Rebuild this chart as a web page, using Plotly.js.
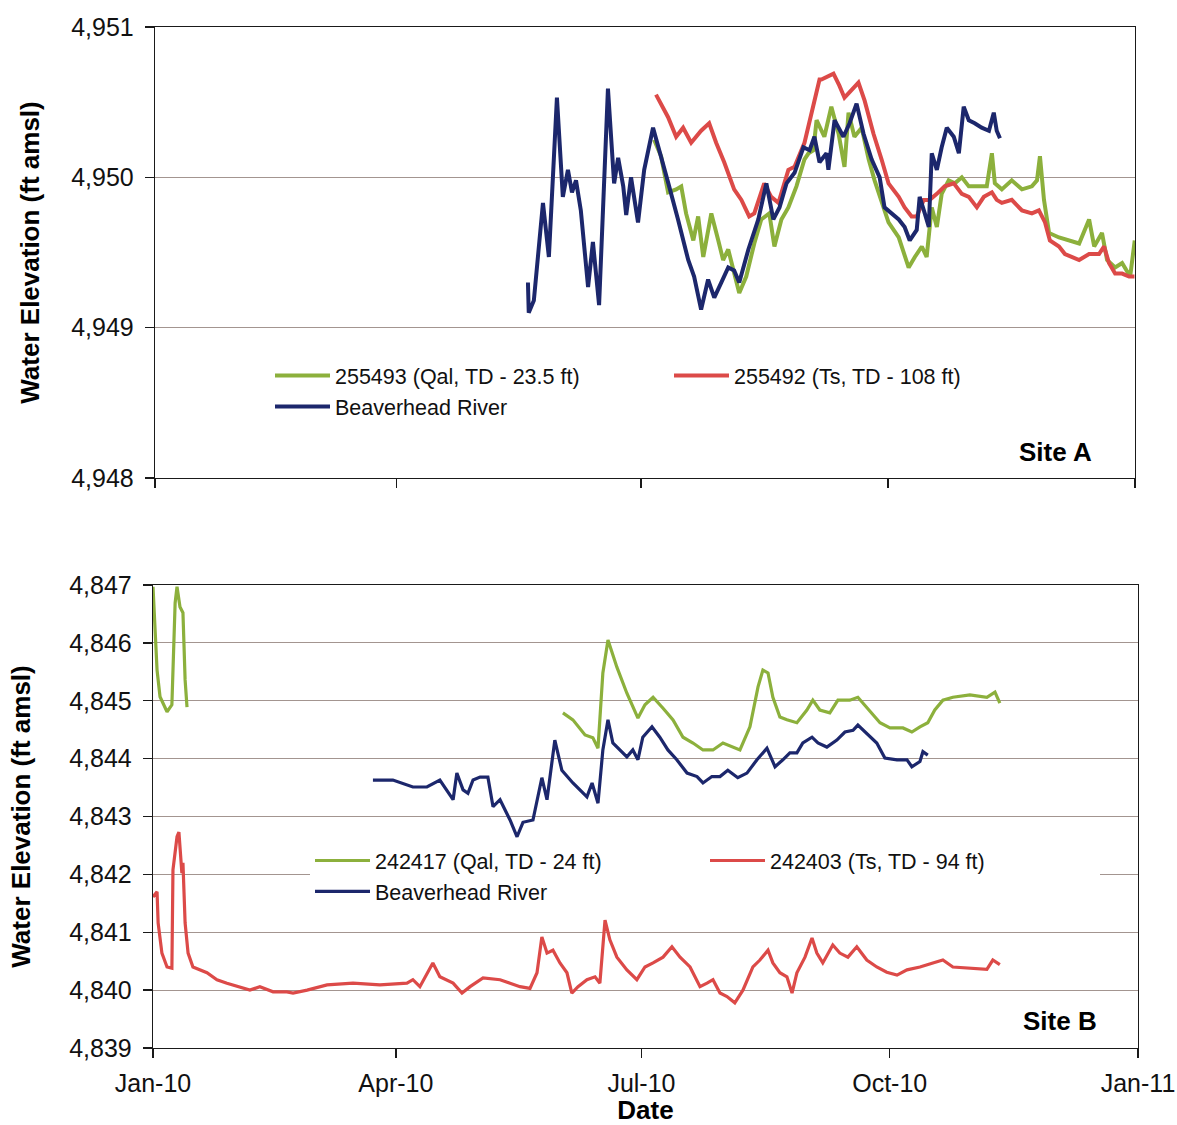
<!DOCTYPE html>
<html>
<head>
<meta charset="utf-8">
<script src="https://cdn.plot.ly/plotly-3.0.1.min.js"></script>
<style>html,body{margin:0;padding:0;background:#fff;}#chart{width:1177px;height:1125px;}</style>
</head>
<body>
<div id="chart"></div>
<script>
// ---------- DATA (x = days after 1 Jan 2010, y = water elevation, ft amsl) ----------
const tickDates = ['2010-01-01','2010-04-01','2010-07-01','2010-10-01','2011-01-01'];
const tickLabels = ['Jan-10','Apr-10','Jul-10','Oct-10','Jan-11'];

// Site A
const siteA_names = ['255493 (Qal, TD - 23.5 ft)', '255492 (Ts, TD - 108 ft)', 'Beaverhead River'];
const siteA_qal_day = [185.9,188.5,191.1,194.1,196.0,197.8,200.5,202.3,204.2,207.2,209.8,211.6,213.5,215.7,217.6,220.2,223.2,225.8,228.8,230.7,233.3,235.9,238.9,241.9,243.4,245.2,246.4,249.3,251.9,254.6,256.8,258.3,260.5,263.2,265.8,268.0,270.6,273.2,277.0,280.7,283.0,285.6,287.4,289.3,291.2,293.0,295.6,297.9,300.5,303.1,306.8,309.8,311.7,312.8,315.4,319.1,322.9,326.6,328.5,329.6,331.1,333.0,336.7,340.4,344.2,347.9,349.8,352.7,354.6,357.6,360.2,363.2,364.3,364.9];
const siteA_qal_val = [4950.25,4950.14,4949.90,4949.92,4949.94,4949.76,4949.58,4949.74,4949.47,4949.76,4949.58,4949.45,4949.52,4949.36,4949.23,4949.34,4949.56,4949.72,4949.76,4949.54,4949.72,4949.80,4949.94,4950.12,4950.16,4950.18,4950.38,4950.27,4950.47,4950.29,4950.07,4950.43,4950.27,4950.33,4950.12,4949.98,4949.83,4949.70,4949.60,4949.40,4949.47,4949.54,4949.47,4949.80,4949.67,4949.89,4949.98,4949.96,4950.00,4949.94,4949.94,4949.94,4950.16,4949.96,4949.92,4949.98,4949.92,4949.94,4949.98,4950.14,4949.85,4949.63,4949.60,4949.58,4949.56,4949.72,4949.54,4949.63,4949.45,4949.40,4949.43,4949.34,4949.49,4949.58];
const siteA_ts_day = [186.6,191.1,194.1,196.7,199.7,203.4,206.4,209.0,212.0,215.7,218.4,221.3,223.2,226.9,229.5,232.2,235.9,238.2,241.9,245.2,247.5,248.2,252.7,254.9,256.8,259.4,262.0,264.3,267.6,270.6,273.2,277.0,279.2,281.8,283.7,286.3,288.5,291.2,294.1,297.5,300.5,303.1,306.1,308.7,311.7,313.5,315.4,319.1,322.9,326.6,329.2,331.5,333.3,336.7,338.9,344.2,347.9,351.6,353.5,355.3,357.6,360.2,362.8,364.8];
const siteA_ts_val = [4950.55,4950.40,4950.27,4950.33,4950.23,4950.31,4950.36,4950.23,4950.10,4949.92,4949.85,4949.74,4949.76,4949.96,4949.87,4949.83,4950.05,4950.07,4950.23,4950.47,4950.65,4950.65,4950.69,4950.61,4950.53,4950.58,4950.63,4950.51,4950.29,4950.12,4949.96,4949.87,4949.80,4949.74,4949.74,4949.85,4949.85,4949.89,4949.94,4949.96,4949.89,4949.87,4949.80,4949.87,4949.90,4949.85,4949.83,4949.85,4949.78,4949.76,4949.78,4949.70,4949.58,4949.54,4949.49,4949.45,4949.49,4949.49,4949.54,4949.43,4949.36,4949.36,4949.34,4949.34];
const siteA_river_day = [138.9,139.2,141.1,144.5,146.7,149.7,151.9,153.8,155.3,156.8,158.6,161.3,163.1,165.4,168.7,171.0,172.5,174.4,175.5,177.3,179.9,182.2,185.5,187.8,191.2,194.8,198.6,200.8,203.4,206.0,208.3,210.9,213.5,215.7,217.6,221.0,224.7,227.7,230.3,232.6,235.2,238.2,241.5,243.8,245.6,247.5,250.1,250.8,253.1,256.4,258.7,261.3,263.9,266.9,269.9,271.7,274.4,277.0,279.2,281.1,283.7,284.8,286.7,288.2,289.3,291.2,293.0,294.9,297.5,299.4,301.2,303.1,305.3,307.9,310.6,312.4,313.5,314.7];
const siteA_river_val = [4949.30,4949.10,4949.18,4949.83,4949.47,4950.53,4949.87,4950.05,4949.90,4949.98,4949.78,4949.27,4949.57,4949.15,4950.59,4949.96,4950.13,4949.94,4949.75,4950.00,4949.70,4950.05,4950.33,4950.19,4949.96,4949.72,4949.45,4949.34,4949.12,4949.32,4949.20,4949.30,4949.40,4949.38,4949.30,4949.52,4949.72,4949.96,4949.72,4949.80,4949.96,4950.03,4950.20,4950.18,4950.27,4950.10,4950.16,4950.05,4950.38,4950.27,4950.36,4950.49,4950.29,4950.12,4950.00,4949.80,4949.76,4949.72,4949.67,4949.58,4949.65,4949.87,4949.76,4949.67,4950.16,4950.05,4950.20,4950.33,4950.27,4950.16,4950.47,4950.38,4950.36,4950.33,4950.31,4950.43,4950.31,4950.26];

// Site B
const siteB_names = ['242417 (Qal, TD - 24 ft)', '242403 (Ts, TD - 94 ft)', 'Beaverhead River'];
const siteB_qal_day = [0,1.5,2.6,5.2,7.0,8.2,8.9,10.0,11.1,11.9,12.6,13.0,151.9,155.6,160.1,163.0,164.9,166.7,168.6,171.9,175.6,179.7,182.3,185.3,189.0,192.7,196.4,200.1,203.8,207.5,211.2,214.9,217.5,221.2,224.2,226.0,227.9,229.7,232.3,234.9,238.6,242.3,244.5,247.1,250.8,253.8,258.2,261.2,264.5,269.4,273.1,277.9,281.2,284.2,287.1,289.7,292.7,296.4,302.7,309.0,312.0,313.8];
const siteB_qal_val = [4846.97,4845.53,4845.07,4844.81,4844.93,4846.69,4846.97,4846.62,4846.52,4845.36,4844.89,null,4844.79,4844.67,4844.41,4844.36,4844.18,4845.48,4846.05,4845.58,4845.13,4844.70,4844.93,4845.06,4844.87,4844.67,4844.37,4844.27,4844.15,4844.15,4844.27,4844.20,4844.15,4844.55,4845.24,4845.53,4845.48,4845.06,4844.72,4844.67,4844.62,4844.84,4845.01,4844.84,4844.79,4845.01,4845.01,4845.06,4844.89,4844.62,4844.53,4844.53,4844.46,4844.55,4844.62,4844.84,4845.01,4845.06,4845.10,4845.06,4845.15,4844.96];
const siteB_ts_day = [0,1.5,1.9,3.3,5.2,7.0,7.4,8.9,9.6,10.7,11.1,11.9,13.0,14.8,20.0,23.7,27.4,32.2,35.9,39.6,44.5,49.6,51.9,57.1,64.5,74.1,84.1,94.1,96.3,98.9,103.7,106.3,111.2,114.5,117.5,122.3,128.6,132.3,136.0,139.7,142.3,144.1,146.0,148.2,150.8,153.4,155.2,157.5,160.8,163.8,165.6,167.5,169.3,171.9,175.6,179.3,182.3,185.3,189.0,192.3,195.3,199.0,202.7,205.3,207.5,210.1,212.7,215.6,218.6,222.3,224.9,227.9,229.7,232.3,234.9,236.8,238.6,241.6,244.2,246.0,248.2,251.9,254.5,257.5,260.8,264.5,268.2,271.9,275.7,279.4,284.2,289.0,292.7,296.4,302.7,309.0,311.2,313.8];
const siteB_ts_val = [4841.61,4841.70,4841.16,4840.64,4840.40,4840.38,4842.08,4842.65,4842.73,4842.02,4842.20,4841.16,4840.64,4840.40,4840.30,4840.18,4840.12,4840.06,4840.00,4840.06,4839.97,4839.97,4839.95,4840.00,4840.09,4840.12,4840.09,4840.12,4840.18,4840.06,4840.47,4840.23,4840.12,4839.95,4840.06,4840.21,4840.18,4840.12,4840.06,4840.03,4840.30,4840.92,4840.64,4840.69,4840.47,4840.30,4839.95,4840.06,4840.18,4840.23,4840.12,4841.21,4840.87,4840.57,4840.35,4840.18,4840.40,4840.47,4840.57,4840.75,4840.57,4840.40,4840.06,4840.12,4840.18,4839.95,4839.89,4839.78,4840.00,4840.40,4840.52,4840.69,4840.47,4840.30,4840.23,4839.95,4840.30,4840.57,4840.90,4840.64,4840.47,4840.78,4840.64,4840.57,4840.75,4840.52,4840.40,4840.31,4840.26,4840.35,4840.40,4840.47,4840.52,4840.40,4840.38,4840.36,4840.52,4840.44];
const siteB_river_day = [81.5,88.9,96.3,101.5,106.3,111.2,112.6,114.9,116.7,118.6,121.2,124.1,126.0,128.6,132.3,134.9,137.1,140.8,144.1,146.0,148.9,151.5,155.6,160.8,162.7,164.9,166.7,168.6,170.4,173.0,175.6,177.8,179.7,181.5,184.9,187.8,190.8,194.1,197.9,201.6,203.8,207.1,210.1,213.0,216.7,220.1,223.8,227.5,230.5,233.4,236.0,238.6,240.8,244.2,246.4,249.7,253.4,256.4,259.4,261.2,264.5,268.2,271.2,275.7,279.4,281.2,284.2,285.3,287.1];
const siteB_river_val = [4843.63,4843.63,4843.51,4843.51,4843.63,4843.29,4843.75,4843.46,4843.40,4843.63,4843.68,4843.68,4843.17,4843.29,4842.94,4842.65,4842.90,4842.94,4843.67,4843.29,4844.32,4843.80,4843.58,4843.34,4843.58,4843.23,4844.15,4844.67,4844.27,4844.15,4844.03,4844.15,4843.98,4844.37,4844.55,4844.37,4844.15,4843.98,4843.75,4843.69,4843.58,4843.69,4843.69,4843.80,4843.67,4843.75,4843.98,4844.18,4843.86,4843.98,4844.10,4844.10,4844.27,4844.37,4844.27,4844.20,4844.32,4844.46,4844.49,4844.58,4844.44,4844.27,4844.01,4843.98,4843.98,4843.86,4843.95,4844.12,4844.06];

// ---------- BUILD ----------
const W = 1177, H = 1125;
const M = {l: 153, r: 39, t: 27, b: 77};
const PW = W - M.l - M.r, PH = H - M.t - M.b;
const px2x = p => (p - M.l) / PW;
const px2y = p => (H - M.b - p) / PH;
const base = Date.UTC(2010, 0, 1);
const toDate = d => new Date(base + d * 86400000).toISOString().slice(0, 19).replace('T', ' ');
const dates = arr => arr.map(toDate);

const GREEN = '#8cb03c', RED = '#dc4a48', NAVY = '#1c276c';
const FONT = 'Arial, "Liberation Sans", sans-serif';

function tr(days, vals, name, color, width, xa, ya, leg) {
  return {type: 'scatter', mode: 'lines', x: dates(days), y: vals, name: name,
    xaxis: xa, yaxis: ya, legend: leg, connectgaps: false,
    line: {color: color, width: width}, hoverinfo: 'x+y+name'};
}

const data = [
  tr(siteA_qal_day, siteA_qal_val, siteA_names[0], GREEN, 4, 'x', 'y', 'legend'),
  tr(siteA_ts_day, siteA_ts_val, siteA_names[1], RED, 4, 'x', 'y', 'legend'),
  tr(siteA_river_day, siteA_river_val, siteA_names[2], NAVY, 4, 'x', 'y', 'legend'),
  tr(siteB_qal_day, siteB_qal_val, siteB_names[0], GREEN, 3.2, 'x2', 'y2', 'legend2'),
  tr(siteB_ts_day, siteB_ts_val, siteB_names[1], RED, 3.2, 'x2', 'y2', 'legend2'),
  tr(siteB_river_day, siteB_river_val, siteB_names[2], NAVY, 3.2, 'x2', 'y2', 'legend2')
];

const axLine = {showline: true, mirror: true, linecolor: '#1a1a1a', linewidth: 1.3,
  ticks: 'outside', ticklen: 9, tickcolor: '#1a1a1a', tickwidth: 1.3, zeroline: false};
const GRID = '#a39590';
const tickFont = {family: FONT, size: 25, color: '#111'};
const titleFont = {family: FONT, size: 26, color: '#000', weight: 'bold'};

const xcommon = Object.assign({}, axLine, {
  type: 'date', range: ['2010-01-01', '2011-01-01'], tickmode: 'array',
  tickvals: tickDates, ticktext: tickLabels, showgrid: false, tickfont: tickFont
});

const layout = {
  width: W, height: H, margin: M, paper_bgcolor: '#fff', plot_bgcolor: '#fff',
  font: {family: FONT, color: '#111'}, showlegend: true,
  xaxis: Object.assign({}, xcommon, {domain: [px2x(155), px2x(1135)], anchor: 'y', showticklabels: false}),
  yaxis: Object.assign({}, axLine, {domain: [px2y(478), px2y(27)], anchor: 'x', range: [4948, 4951],
    dtick: 1, tick0: 4948, tickformat: ',d', showgrid: true, gridcolor: GRID, gridwidth: 1,
    tickfont: tickFont, ticklabelstandoff: 6,
    title: {text: 'Water Elevation (ft amsl)', font: titleFont, standoff: 24}}),
  xaxis2: Object.assign({}, xcommon, {domain: [0, 1], anchor: 'y2', ticklabelstandoff: 4,
    title: {text: 'Date', font: titleFont, standoff: 6}}),
  yaxis2: Object.assign({}, axLine, {domain: [0, px2y(585)], anchor: 'x2', range: [4839, 4847],
    dtick: 1, tick0: 4839, tickformat: ',d', showgrid: true, gridcolor: GRID, gridwidth: 1,
    tickfont: tickFont, ticklabelstandoff: 6,
    title: {text: 'Water Elevation (ft amsl)', font: titleFont, standoff: 31}}),
  legend: {x: px2x(270), y: px2y(355), xanchor: 'left', yanchor: 'top', orientation: 'h',
    itemwidth: 55, entrywidth: 329, bgcolor: 'rgba(255,255,255,0)', borderwidth: 0,
    font: {family: FONT, size: 21.5, color: '#111'}, traceorder: 'normal'},
  legend2: {x: px2x(310), y: px2y(840), xanchor: 'left', yanchor: 'top', orientation: 'h',
    itemwidth: 55, entrywidth: 325, bgcolor: '#fff', borderwidth: 0,
    font: {family: FONT, size: 21.5, color: '#111'}, traceorder: 'normal'},
  annotations: [
    {text: 'Site A', xref: 'paper', yref: 'paper', x: px2x(1055), y: px2y(452), xanchor: 'center', yanchor: 'middle',
      showarrow: false, font: titleFont},
    {text: 'Site B', xref: 'paper', yref: 'paper', x: px2x(1060), y: px2y(1021), xanchor: 'center', yanchor: 'middle',
      showarrow: false, font: titleFont}
  ]
};

Plotly.newPlot('chart', data, layout, {displayModeBar: false, staticPlot: true});
</script>
</body>
</html>
